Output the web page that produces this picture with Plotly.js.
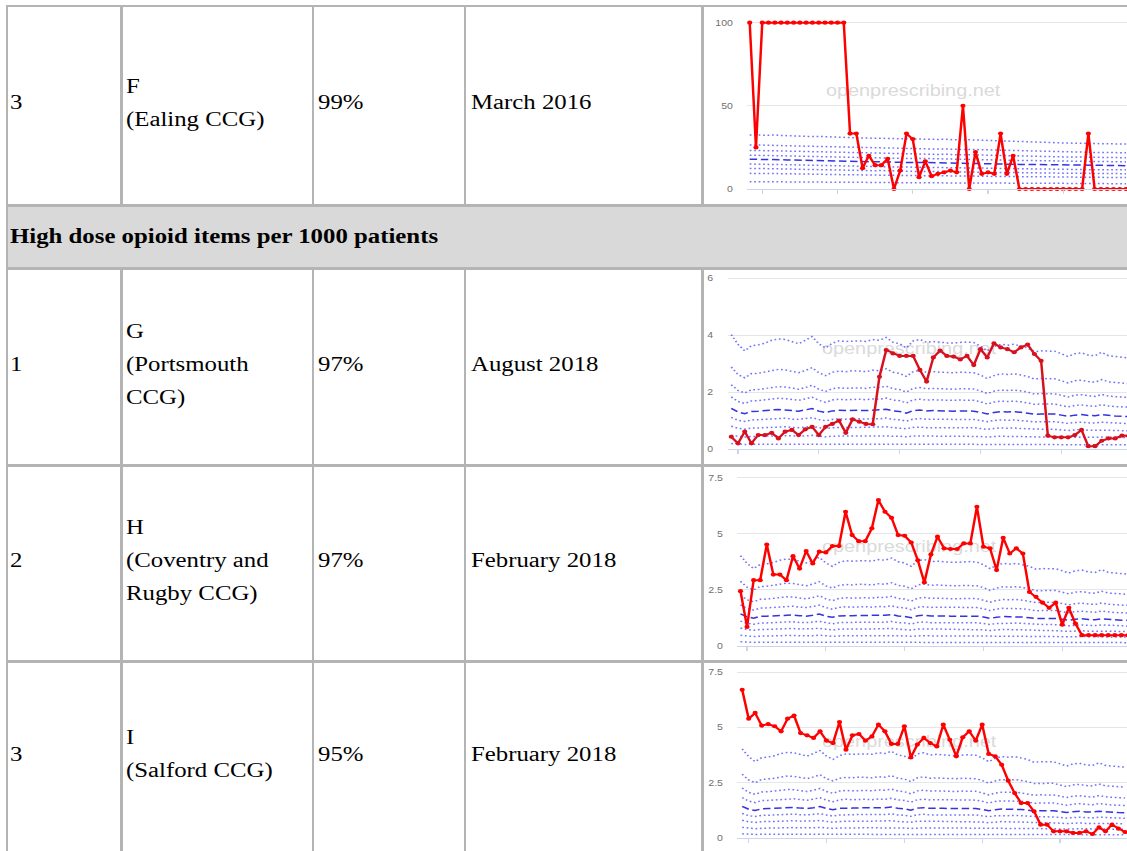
<!DOCTYPE html>
<html><head><meta charset="utf-8">
<script src="https://cdn.plot.ly/plotly-3.0.1.min.js"></script>
<style>
html,body{margin:0;padding:0;background:#fff;width:1127px;height:851px;overflow:hidden;position:relative;}
.ln{position:absolute;background:#b4b4b4;}
.hdr{position:absolute;background:#d9d9d9;}
.cell{position:absolute;display:flex;align-items:center;font-family:"Liberation Serif","Times New Roman",serif;font-size:20px;line-height:33px;color:#000;}
.cell span{display:inline-block;transform:scaleX(1.24);transform-origin:0 50%;white-space:nowrap;}
.chartwrap{position:absolute;left:704px;width:423px;overflow:hidden;}
.stretch{position:absolute;left:0;top:0;transform:scaleX(1.24);transform-origin:0 0;}
.wm{position:absolute;font-family:"Liberation Sans",Arial,sans-serif;font-size:16px;line-height:20px;color:#dadada;white-space:nowrap;}
.plot{position:absolute;left:0;top:0;}
</style></head>
<body>
<div id="page"></div>
<script>
// ---------------- DATA ----------------
const rankCol = ["3", "1", "2", "3"];
const orgCol = [["F", "(Ealing CCG)"], ["G", "(Portsmouth", "CCG)"], ["H", "(Coventry and", "Rugby CCG)"], ["I", "(Salford CCG)"]];
const pctCol = ["99%", "97%", "97%", "95%"];
const dateCol = ["March 2016", "August 2018", "February 2018", "February 2018"];
const sectionTitle = "High dose opioid items per 1000 patients";
const watermark = "openprescribing.net";

// Ealing (F) measure, percentile lines
const ealingP90 = [32.5,32.6,32.4,32.3,32.5,32.2,32.0,31.8,31.7,31.6,31.5,31.6,31.4,31.2,31.0,30.9,31.0,30.8,30.7,30.6,30.5,30.6,30.4,30.3,30.2,30.1,30.0,30.1,30.0,29.9,29.8,29.9,29.7,29.5,29.4,29.6,29.5,29.3,29.0,29.2,29.1,28.9,28.7,28.6,28.4,28.3,28.1,28.0,27.9,27.8,27.7,27.6,27.5,27.5,27.4,27.3,27.2,27.2,27.1,27.0,27.0];
const ealingP80 = [26.5,26.6,26.4,26.3,26.4,26.1,26.0,25.9,25.8,25.7,25.6,25.7,25.5,25.3,25.2,25.1,25.2,25.0,24.9,24.8,24.7,24.8,24.6,24.5,24.4,24.3,24.2,24.3,24.2,24.1,24.0,24.1,23.9,23.8,23.7,23.8,23.7,23.5,23.3,23.4,23.3,23.2,23.0,22.9,22.8,22.7,22.6,22.5,22.4,22.4,22.3,22.2,22.2,22.1,22.1,22.0,22.0,21.9,21.9,21.8,21.8];
const ealingP70 = [23.2,23.3,23.1,23.0,23.1,22.9,22.8,22.7,22.6,22.5,22.4,22.5,22.3,22.1,22.0,21.9,22.0,21.8,21.7,21.6,21.5,21.6,21.4,21.3,21.2,21.1,21.0,21.1,21.0,20.9,20.8,20.9,20.7,20.6,20.5,20.6,20.5,20.3,20.1,20.2,20.1,20.0,19.9,19.8,19.7,19.6,19.5,19.5,19.4,19.4,19.3,19.3,19.2,19.2,19.1,19.1,19.0,19.0,18.9,18.9,18.8];
const ealingP60 = [20.3,20.4,20.2,20.1,20.2,20.0,19.9,19.8,19.7,19.6,19.5,19.6,19.4,19.3,19.2,19.1,19.2,19.0,18.9,18.8,18.7,18.8,18.6,18.5,18.5,18.4,18.3,18.4,18.3,18.2,18.1,18.2,18.0,17.9,17.8,17.9,17.8,17.7,17.5,17.6,17.5,17.4,17.3,17.2,17.1,17.1,17.0,17.0,16.9,16.9,16.8,16.8,16.7,16.7,16.6,16.6,16.5,16.5,16.4,16.4,16.3];
const ealingP50 = [17.9,18.0,17.8,17.7,17.8,17.6,17.5,17.4,17.3,17.2,17.1,17.2,17.0,16.9,16.8,16.7,16.8,16.6,16.5,16.4,16.3,16.4,16.2,16.1,16.1,16.0,15.9,16.0,15.9,15.8,15.7,15.8,15.6,15.5,15.4,15.5,15.4,15.3,15.1,15.2,15.1,15.0,14.9,14.8,14.8,14.7,14.7,14.6,14.6,14.5,14.5,14.4,14.4,14.4,14.3,14.3,14.2,14.2,14.1,14.1,14.0];
const ealingP40 = [15.0,15.1,14.9,14.8,14.9,14.7,14.6,14.5,14.4,14.3,14.2,14.3,14.1,14.0,13.9,13.8,13.9,13.7,13.6,13.5,13.5,13.5,13.4,13.3,13.2,13.2,13.1,13.2,13.1,13.0,12.9,13.0,12.8,12.7,12.7,12.7,12.6,12.5,12.4,12.5,12.4,12.3,12.2,12.2,12.1,12.1,12.0,12.0,11.9,11.9,11.8,11.8,11.8,11.7,11.7,11.6,11.6,11.6,11.5,11.5,11.5];
const ealingP30 = [12.4,12.5,12.3,12.2,12.3,12.1,12.0,11.9,11.8,11.8,11.7,11.8,11.6,11.5,11.4,11.3,11.4,11.2,11.1,11.1,11.0,11.1,10.9,10.8,10.8,10.7,10.6,10.7,10.6,10.5,10.5,10.5,10.4,10.3,10.2,10.3,10.2,10.1,10.0,10.1,10.0,9.9,9.9,9.8,9.8,9.7,9.7,9.6,9.6,9.6,9.5,9.5,9.5,9.4,9.4,9.4,9.3,9.3,9.3,9.2,9.2];
const ealingP20 = [9.4,9.5,9.3,9.3,9.3,9.2,9.1,9.0,9.0,8.9,8.9,8.9,8.8,8.7,8.7,8.6,8.6,8.5,8.5,8.4,8.4,8.4,8.3,8.2,8.2,8.1,8.1,8.1,8.0,8.0,7.9,8.0,7.9,7.8,7.8,7.8,7.7,7.7,7.6,7.6,7.6,7.5,7.5,7.4,7.4,7.4,7.3,7.3,7.3,7.2,7.2,7.2,7.1,7.1,7.1,7.0,7.0,7.0,7.0,6.9,6.9];
const ealingP10 = [4.4,4.5,4.4,4.4,4.4,4.3,4.3,4.3,4.2,4.2,4.2,4.2,4.1,4.1,4.1,4.0,4.0,4.0,4.0,3.9,3.9,3.9,3.9,3.8,3.8,3.8,3.8,3.8,3.7,3.7,3.7,3.7,3.7,3.6,3.6,3.6,3.6,3.6,3.5,3.5,3.5,3.5,3.5,3.5,3.4,3.4,3.4,3.4,3.4,3.4,3.4,3.3,3.3,3.3,3.3,3.3,3.3,3.3,3.2,3.2,3.2];
const ealingValues = [100,25,100,100,100,100,100,100,100,100,100,100,100,100,100,100,33.3,33.3,12.5,20,14.3,14.3,18.2,0,11.1,33.3,30,7.1,16.7,7.7,9.1,10,11.1,10,50,0,22.2,9.1,10,9.1,33.3,9.1,20,0,0,0,0,0,0,0,0,0,0,0,33.3,0,0,0,0,0,0];

// High dose opioid items per 1000 patients, national percentile lines
const opioidP90 = [4.02,3.68,3.45,3.63,3.66,3.72,3.82,3.87,3.85,3.78,3.70,3.82,3.95,3.70,3.55,3.72,3.80,3.78,3.80,3.80,3.78,3.85,3.82,3.92,3.75,3.70,3.55,3.80,3.85,3.75,3.78,3.75,3.73,3.73,3.75,3.76,3.74,3.62,3.45,3.60,3.68,3.65,3.68,3.62,3.55,3.42,3.45,3.44,3.44,3.35,3.25,3.35,3.38,3.30,3.28,3.40,3.28,3.25,3.22,3.20];
const opioidP80 = [2.88,2.62,2.50,2.65,2.66,2.70,2.76,2.80,2.78,2.72,2.68,2.76,2.86,2.68,2.58,2.70,2.74,2.72,2.75,2.74,2.72,2.77,2.75,2.82,2.70,2.66,2.55,2.72,2.76,2.70,2.72,2.70,2.68,2.68,2.70,2.70,2.68,2.60,2.48,2.58,2.64,2.62,2.64,2.60,2.55,2.46,2.48,2.47,2.47,2.40,2.32,2.40,2.42,2.37,2.35,2.44,2.36,2.34,2.32,2.30];
const opioidP70 = [2.26,2.06,1.97,2.08,2.09,2.12,2.16,2.19,2.18,2.13,2.10,2.16,2.24,2.10,2.02,2.12,2.15,2.13,2.15,2.15,2.13,2.17,2.16,2.21,2.12,2.09,2.00,2.13,2.16,2.12,2.13,2.12,2.10,2.10,2.12,2.12,2.11,2.04,1.95,2.03,2.07,2.06,2.07,2.04,2.00,1.93,1.95,1.94,1.94,1.89,1.83,1.89,1.91,1.87,1.85,1.92,1.86,1.84,1.83,1.81];
const opioidP60 = [1.83,1.67,1.60,1.69,1.70,1.72,1.76,1.78,1.77,1.73,1.71,1.76,1.82,1.71,1.64,1.72,1.75,1.73,1.75,1.75,1.73,1.76,1.75,1.79,1.72,1.70,1.62,1.73,1.75,1.72,1.73,1.72,1.71,1.71,1.72,1.72,1.71,1.66,1.58,1.65,1.68,1.67,1.68,1.66,1.62,1.57,1.58,1.58,1.58,1.53,1.48,1.53,1.55,1.52,1.50,1.56,1.51,1.49,1.48,1.47];
const opioidP50 = [1.43,1.30,1.24,1.32,1.33,1.34,1.37,1.39,1.38,1.35,1.33,1.37,1.42,1.33,1.28,1.34,1.36,1.35,1.36,1.36,1.35,1.37,1.37,1.40,1.34,1.32,1.26,1.35,1.37,1.34,1.35,1.34,1.33,1.33,1.34,1.34,1.33,1.29,1.23,1.28,1.31,1.30,1.31,1.29,1.26,1.22,1.23,1.23,1.23,1.19,1.15,1.19,1.21,1.18,1.17,1.21,1.18,1.16,1.15,1.14];
const opioidP40 = [1.11,1.01,0.97,1.02,1.03,1.04,1.07,1.08,1.08,1.05,1.04,1.07,1.10,1.04,0.99,1.04,1.06,1.05,1.06,1.06,1.05,1.07,1.06,1.09,1.04,1.03,0.98,1.05,1.07,1.04,1.05,1.04,1.04,1.04,1.04,1.05,1.04,1.00,0.96,1.00,1.02,1.01,1.02,1.00,0.98,0.95,0.96,0.96,0.96,0.93,0.90,0.93,0.94,0.92,0.91,0.94,0.92,0.90,0.90,0.89];
const opioidP30 = [0.80,0.73,0.70,0.74,0.74,0.75,0.77,0.78,0.78,0.76,0.75,0.77,0.79,0.75,0.71,0.75,0.76,0.76,0.76,0.76,0.76,0.77,0.77,0.78,0.75,0.74,0.71,0.76,0.77,0.75,0.76,0.75,0.75,0.75,0.75,0.75,0.75,0.72,0.69,0.72,0.74,0.73,0.74,0.72,0.71,0.69,0.69,0.69,0.69,0.67,0.65,0.67,0.68,0.66,0.66,0.68,0.66,0.65,0.65,0.64];
const opioidP20 = [0.48,0.44,0.42,0.44,0.45,0.45,0.46,0.47,0.47,0.46,0.45,0.46,0.48,0.45,0.43,0.45,0.46,0.46,0.46,0.46,0.46,0.46,0.46,0.47,0.45,0.45,0.43,0.46,0.46,0.45,0.46,0.45,0.45,0.45,0.45,0.45,0.45,0.44,0.42,0.44,0.45,0.44,0.45,0.44,0.43,0.42,0.42,0.42,0.42,0.41,0.40,0.41,0.42,0.41,0.41,0.42,0.41,0.40,0.40,0.40];
const opioidP10 = [0.19,0.17,0.16,0.17,0.17,0.17,0.18,0.18,0.18,0.18,0.17,0.18,0.18,0.17,0.16,0.17,0.18,0.17,0.18,0.18,0.17,0.18,0.18,0.18,0.17,0.17,0.16,0.17,0.18,0.17,0.17,0.17,0.17,0.17,0.17,0.17,0.17,0.17,0.16,0.17,0.17,0.17,0.17,0.17,0.16,0.16,0.16,0.16,0.16,0.15,0.15,0.15,0.16,0.15,0.15,0.16,0.15,0.15,0.15,0.15];

const portsmouthValues = [0.43,0.2,0.61,0.2,0.49,0.49,0.57,0.37,0.61,0.67,0.49,0.69,0.78,0.49,0.78,0.88,1.0,0.57,1.04,0.96,0.88,0.87,2.54,3.48,3.36,3.27,3.27,3.27,2.78,2.37,3.22,3.46,3.27,3.25,3.15,3.27,2.95,3.51,3.22,3.71,3.57,3.51,3.4,3.57,3.67,3.34,3.1,0.47,0.41,0.41,0.41,0.49,0.67,0.1,0.1,0.29,0.37,0.37,0.47,0.46];
const coventryValues = [2.44,0.85,2.93,2.93,4.52,3.18,3.18,2.93,4.0,3.45,4.23,3.68,4.2,4.17,4.45,4.45,5.98,4.94,4.67,4.67,5.24,6.5,5.98,5.71,4.94,4.91,4.61,3.82,2.83,4.08,4.87,4.35,4.32,4.32,4.57,4.57,6.2,4.42,4.35,3.38,4.82,4.12,4.35,4.12,2.41,2.19,1.93,1.7,1.93,0.95,1.7,1.0,0.48,0.48,0.48,0.48,0.48,0.48,0.48,0.48];
const salfordValues = [6.7,5.39,5.65,5.08,5.15,5.05,4.82,5.39,5.53,4.74,4.64,4.52,4.82,4.4,4.29,5.24,3.99,4.64,4.7,4.4,4.59,5.12,4.82,4.25,4.25,5.05,3.64,4.22,4.52,4.29,4.14,5.12,4.44,3.69,4.55,4.82,4.4,5.12,3.8,3.69,3.31,2.59,2.03,1.58,1.58,1.2,0.6,0.6,0.3,0.3,0.3,0.23,0.23,0.3,0.18,0.48,0.3,0.6,0.42,0.27];

const ealingTicks = [0, 50, 100];
const opioidTicksG = [0, 2, 4, 6];
const opioidTicksHI = [0, 2.5, 5, 7.5];

// ---------------- LAYOUT ----------------
const S = 1.24;           // horizontal stretch of the reference
const page = document.getElementById('page');
function box(cls, x, y, w, h, parent) {
  const d = document.createElement('div');
  d.className = cls;
  d.style.left = x + 'px'; d.style.top = y + 'px';
  d.style.width = w + 'px'; d.style.height = h + 'px';
  (parent || page).appendChild(d);
  return d;
}
// header band
box('hdr', 8, 207, 1119, 60);
// row geometry
const rows = [[7, 204], [270, 464], [467, 660], [663, 851]];
// horizontal lines
box('ln', 6, 5, 1121, 2);
[[204,3],[267,3],[464,3],[660,3]].forEach(([y,h]) => box('ln', 6, y, 1121, h));
// left border
box('ln', 6, 5, 2, 846);
// column lines within data rows
const colLines = [[120,3],[312,2],[464,2],[701,3]];
rows.forEach(([a,b]) => colLines.forEach(([x,w]) => box('ln', x, a, w, b - a)));

function textCell(x, y0, y1, lines, bold) {
  const c = box('cell', x, y0 - 3, 300, y1 - y0);
  const s = document.createElement('span');
  s.innerHTML = lines.join('<br>');
  if (bold) s.style.fontWeight = 'bold';
  c.appendChild(s);
}
rows.forEach(([a,b], r) => {
  textCell(10, a, b, [rankCol[r]]);
  textCell(126, a, b, orgCol[r]);
  textCell(318, a, b, [pctCol[r]]);
  textCell(471, a, b, [dateCol[r]]);
});
(function(){ const c = box('cell', 10, 206, 900, 60); const s = document.createElement('span'); s.textContent = sectionTitle; s.style.fontWeight = 'bold'; c.appendChild(s); })();

// ---------------- CHARTS ----------------
const RIGHT = 1135, DIVRIGHT = 1144, LEFT0 = 704;
function makeChart(cfg) {
  const wrap = box('chartwrap', LEFT0, cfg.top, 423, cfg.h);
  const st = box('stretch', 0, 0, (DIVRIGHT - LEFT0) / S, cfg.h, wrap);
  const wm = document.createElement('div');
  wm.className = 'wm';
  wm.textContent = watermark;
  wm.style.left = ((cfg.wmX - LEFT0) / S) + 'px';
  wm.style.top = (cfg.wmY - cfg.top - 10) + 'px';
  st.appendChild(wm);
  const pd = document.createElement('div');
  pd.className = 'plot';
  st.appendChild(pd);

  const traces = [];
  cfg.deciles.forEach((arr, k) => {
    const med = (k === 4);
    traces.push({
      x: arr.map((_, i) => i), y: arr, mode: 'lines', hoverinfo: 'skip',
      line: med ? {color: 'rgba(40,40,225,0.95)', width: 1.5, dash: '6px,3px'}
                : {color: 'rgba(80,80,250,0.8)', width: 1.5, dash: '1.4px,2.2px'}
    });
  });
  traces.push({
    x: cfg.values.map((_, i) => i), y: cfg.values, mode: 'lines+markers',
    line: {color: cfg.color, width: 2}, marker: {color: cfg.color, size: 4.2},
    cliponaxis: false, hoverinfo: 'skip'
  });
  const plotW = RIGHT - cfg.L;
  const x0 = -(cfg.first - cfg.L) / cfg.sp;
  const x1 = x0 + plotW / cfg.sp;
  const plotH = cfg.B - cfg.T;
  const yTop = plotH / cfg.ppu;
  const layout = {
    width: (DIVRIGHT - LEFT0) / S, height: cfg.h,
    margin: {l: (cfg.L - LEFT0) / S, r: (DIVRIGHT - RIGHT) / S, t: cfg.T - cfg.top, b: cfg.top + cfg.h - cfg.B, pad: 0},
    paper_bgcolor: 'rgba(0,0,0,0)', plot_bgcolor: 'rgba(0,0,0,0)',
    showlegend: false,
    xaxis: {range: [x0, x1], tickvals: cfg.xticks, ticks: 'outside', ticklen: 4, tickwidth: 1,
            tickcolor: '#ccd6eb', showticklabels: false, showgrid: false, zeroline: false,
            showline: true, linecolor: '#ccd6eb', linewidth: 1},
    yaxis: {range: [0, yTop], tickvals: cfg.yticks, showgrid: true, gridcolor: '#e6e6e6', gridwidth: 1,
            zeroline: false, showline: false, ticks: 'outside', ticklen: 9, tickcolor: 'rgba(0,0,0,0)',
            tickfont: {family: 'Liberation Sans, Arial, sans-serif', size: 8.5, color: '#707070'}}
  };
  Plotly.newPlot(pd, traces, layout, {staticPlot: true, displayModeBar: false});
}

const ealingDeciles = [ealingP10, ealingP20, ealingP30, ealingP40, ealingP50, ealingP60, ealingP70, ealingP80, ealingP90];
const opioidDeciles = [opioidP10, opioidP20, opioidP30, opioidP40, opioidP50, opioidP60, opioidP70, opioidP80, opioidP90];

makeChart({top: 7, h: 197, L: 747, T: 15, B: 189, ppu: 1.663, first: 749.3, sp: 6.27,
  xticks: [2,14,26,38,50,62], yticks: ealingTicks, deciles: ealingDeciles, values: ealingValues,
  color: '#ff0000', wmX: 826, wmY: 91});
makeChart({top: 270, h: 194, L: 728, T: 272, B: 449, ppu: 28.45, first: 731.7, sp: 6.72,
  xticks: [1,13,25,37,49,61], yticks: opioidTicksG, deciles: opioidDeciles, values: portsmouthValues,
  color: '#d8101e', wmX: 822, wmY: 349});
makeChart({top: 467, h: 193, L: 738, T: 470, B: 646, ppu: 22.45, first: 741, sp: 6.55,
  xticks: [1,13,25,37,49,61], yticks: opioidTicksHI, deciles: opioidDeciles, values: coventryValues,
  color: '#ff0000', wmX: 822, wmY: 547});
makeChart({top: 663, h: 188, L: 738, T: 666, B: 838, ppu: 22.13, first: 742.7, sp: 6.47,
  xticks: [1,13,25,37,49,61], yticks: opioidTicksHI, deciles: opioidDeciles, values: salfordValues,
  color: '#ff0000', wmX: 822, wmY: 742});
</script>
</body></html>
